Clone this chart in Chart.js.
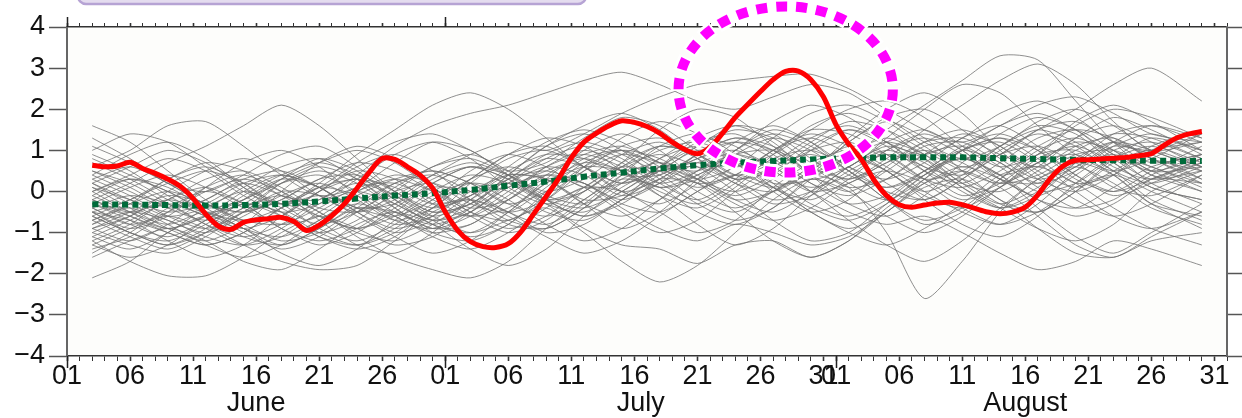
<!DOCTYPE html>
<html>
<head>
<meta charset="utf-8">
<title>Ensemble</title>
<script src="https://cdn.jsdelivr.net/npm/chart.js@4.4.1/dist/chart.umd.min.js"></script>
<style>
  html, body { margin: 0; padding: 0; background: #ffffff; }
  #wrap { width: 1242px; height: 418px; }
</style>
</head>
<body>
<div id="wrap"><canvas id="chart" width="1242" height="418"></canvas></div>
<script>
// Dias contados desde el 1 de junio (0 = 01 junio, 92 = 01 septiembre)
const redStartDay = 2;
const redValues = [
  0.64, 0.60, 0.62, 0.71, 0.56, 0.44, 0.30, 0.12, -0.17, -0.55,
  -0.84, -0.92, -0.75, -0.69, -0.66, -0.63, -0.73, -0.95, -0.82, -0.59,
  -0.30, 0.08, 0.48, 0.80, 0.78, 0.60, 0.40, 0.08, -0.50, -0.95,
  -1.22, -1.34, -1.36, -1.27, -0.98, -0.55, -0.12, 0.32, 0.82, 1.20,
  1.42, 1.60, 1.72, 1.68, 1.58, 1.42, 1.20, 1.02, 0.92, 1.08,
  1.42, 1.80, 2.12, 2.43, 2.72, 2.92, 2.93, 2.72, 2.30, 1.62,
  1.15, 0.78, 0.28, -0.10, -0.32, -0.38, -0.33, -0.28, -0.26, -0.32,
  -0.41, -0.50, -0.54, -0.50, -0.38, -0.08, 0.32, 0.62, 0.76, 0.77,
  0.79, 0.81, 0.83, 0.87, 0.92, 1.12, 1.30, 1.40, 1.46
];

// Dias de muestreo para los miembros grises y la linea verde
const sampleDays = [2, 5, 8, 11, 14, 17, 20, 23, 26, 29, 32, 35, 38, 41, 44,
  47, 50, 53, 56, 59, 62, 65, 68, 71, 74, 77, 80, 83, 86, 90];

const greenValues = [-0.31, -0.32, -0.33, -0.34, -0.33, -0.30, -0.24, -0.17, -0.10, -0.04,
  0.04, 0.14, 0.24, 0.36, 0.46, 0.56, 0.64, 0.70, 0.74, 0.78,
  0.81, 0.83, 0.83, 0.83, 0.81, 0.79, 0.77, 0.76, 0.75, 0.74];

const grayMembers = [
  [-0.6,-1.0,-1.3,-0.9,-0.2,0.3,0.1,-0.5,-0.9,-0.6,0.2,0.8,1.0,0.6,0.0,-0.3,0.2,1.0,1.5,1.2,0.6,0.3,0.7,1.3,1.6,1.1,0.4,0.0,0.3,0.8],
  [0.4,0.9,1.2,0.8,0.1,-0.6,-1.0,-0.7,0.0,0.6,0.9,0.5,-0.2,-0.6,-0.2,0.6,1.3,1.6,1.2,0.4,-0.3,-0.6,-0.1,0.7,1.4,1.8,1.5,0.8,0.3,0.5],
  [-1.4,-1.1,-0.5,0.1,0.4,0.0,-0.7,-1.3,-1.5,-1.0,-0.2,0.4,0.3,-0.3,-0.9,-0.5,0.3,1.0,1.4,1.1,0.5,-0.2,-0.8,-0.5,0.3,1.0,1.3,0.9,0.2,-0.3],
  [0.1,-0.4,-0.9,-1.2,-0.8,0.0,0.7,1.1,0.8,0.1,-0.5,-0.7,-0.2,0.6,1.3,1.7,1.4,0.7,0.0,-0.5,-0.2,0.6,1.2,1.5,1.1,0.4,-0.2,-0.6,-0.3,0.4],
  [-0.8,-0.3,0.3,0.6,0.2,-0.5,-1.1,-1.4,-1.1,-0.4,0.3,0.9,1.3,1.1,0.5,-0.1,-0.4,0.1,0.9,1.6,1.9,1.5,0.8,0.1,-0.4,-0.1,0.7,1.4,1.6,1.2],
  [1.6,1.2,0.5,-0.2,-0.7,-0.6,0.0,0.6,0.9,0.5,-0.2,-0.8,-0.9,-0.4,0.4,1.1,1.4,0.9,0.2,-0.5,-0.9,-0.5,0.3,1.0,1.2,0.7,0.0,-0.6,-0.9,-0.5],
  [-2.1,-1.7,-1.0,-0.6,-0.9,-1.5,-1.8,-1.4,-0.7,-0.1,0.2,-0.2,-0.8,-1.2,-0.9,-0.2,0.5,0.9,0.6,0.0,-0.7,-1.3,-1.7,-1.2,-0.4,0.3,0.7,0.4,-0.3,-0.9],
  [-0.2,0.2,0.7,1.1,1.6,2.1,1.6,0.8,0.0,-0.5,-0.3,0.4,1.1,1.6,1.9,1.5,0.8,0.2,0.0,0.5,1.3,2.0,2.4,1.9,1.0,0.3,0.0,0.4,1.1,1.5],
  [-1.0,-1.3,-1.5,-1.1,-0.5,0.0,-0.1,-0.6,-1.1,-1.5,-1.2,-0.5,0.2,0.7,0.5,-0.1,-0.8,-1.3,-0.9,-0.1,0.6,1.0,0.7,0.1,-0.4,-0.9,-1.2,-0.8,0.0,0.5],
  [0.9,0.5,-0.1,-0.5,-0.3,0.3,0.8,0.5,-0.2,-0.8,-1.0,-0.5,0.3,1.0,1.4,1.0,0.3,-0.1,0.3,1.0,1.5,1.2,0.5,-0.1,0.2,0.9,1.7,2.1,1.7,1.0],
  [-0.5,-0.9,-0.6,0.1,0.7,1.0,0.6,-0.1,-0.7,-0.9,-0.4,0.4,1.1,1.4,1.0,0.3,-0.3,-0.7,-0.4,0.4,1.2,1.7,1.3,0.5,-0.2,-0.5,0.0,0.8,1.3,1.0],
  [-1.6,-1.2,-0.9,-1.2,-1.7,-1.9,-1.4,-0.8,-0.5,-0.8,-1.4,-1.8,-1.4,-0.6,0.1,0.5,0.2,-0.5,-1.2,-1.6,-1.2,-0.4,0.2,0.5,0.1,-0.6,-1.3,-1.6,-1.1,-0.5],
  [0.6,1.0,1.6,1.7,1.1,0.4,-0.1,0.1,0.7,1.2,1.0,0.4,-0.2,0.0,0.7,1.5,2.0,1.8,1.1,0.5,0.6,1.3,2.0,2.6,2.4,1.6,0.9,0.5,0.8,1.4],
  [-0.3,-0.7,-1.2,-1.6,-1.3,-0.6,0.0,0.3,-0.1,-0.7,-1.1,-0.8,0.0,0.7,1.0,0.6,0.0,-0.4,0.0,0.4,0.1,-1.0,-2.6,-1.7,-0.5,0.3,0.6,0.2,-0.4,-0.8],
  [-0.5,-0.2,0.3,0.7,0.5,-0.1,-0.2,0.4,1.1,1.6,1.9,2.1,2.4,2.7,2.9,2.6,2.2,2.0,2.3,2.6,2.4,1.8,1.2,0.8,1.1,1.7,2.0,1.6,1.0,0.6],
  [0.2,0.6,1.0,0.7,0.1,-0.3,0.2,0.9,1.5,2.1,2.4,2.0,1.3,0.6,0.2,0.5,1.1,1.6,1.4,0.8,0.2,-0.2,0.3,1.0,1.6,1.9,1.5,0.9,0.5,0.8],
  [-0.4,-0.8,-1.1,-0.7,-0.1,0.4,0.7,0.4,-0.2,-0.6,-0.3,0.3,0.9,1.2,0.9,0.5,0.8,1.2,1.0,0.5,0.8,1.5,2.1,2.7,3.3,3.2,2.2,1.2,0.5,0.6],
  [-1.2,-0.8,-0.2,0.1,-0.3,-0.9,-1.2,-0.9,-0.3,0.3,0.6,0.3,-0.2,-0.4,0.0,0.6,1.1,1.5,1.3,0.7,0.3,0.8,1.5,2.1,2.7,3.1,2.6,1.7,1.0,1.2],
  [0.3,-0.1,-0.6,-0.9,-0.5,0.2,0.6,0.3,-0.4,-1.0,-1.2,-0.8,-0.1,0.5,0.9,0.7,0.3,0.6,1.3,1.9,2.1,1.7,1.1,0.6,0.9,1.5,2.0,2.6,3.0,2.2],
  [-0.9,-0.6,0.0,0.5,0.8,0.5,-0.1,-0.5,-0.2,0.4,0.9,1.2,1.0,1.4,1.9,2.3,2.6,2.7,2.8,2.85,2.5,2.0,1.5,1.2,1.6,2.1,2.3,1.9,1.4,1.2],
  [-0.7,-1.1,-1.4,-1.0,-0.4,-0.1,-0.5,-1.1,-1.6,-1.9,-2.1,-1.7,-0.9,-0.2,0.3,0.1,-0.5,-0.8,-0.4,0.3,0.8,0.5,-0.2,-0.8,-1.1,-0.6,0.2,0.8,0.6,0.1],
  [0.5,0.2,-0.3,-0.8,-1.1,-0.8,-0.2,0.2,-0.1,-0.6,-1.0,-0.7,-0.4,-1.0,-1.7,-2.2,-1.8,-1.0,-0.2,0.3,0.0,-0.6,-1.0,-0.6,0.1,0.7,0.9,0.4,-0.3,-0.6],
  [-1.2,-1.7,-2.05,-2.05,-1.6,-1.0,-0.6,-0.9,-1.3,-1.1,-0.5,0.1,0.4,0.1,-0.5,-1.0,-0.7,0.0,0.6,0.9,0.5,-0.2,-0.7,-0.4,0.3,0.9,1.0,0.5,-0.2,-0.7],
  [-0.4,-0.1,-0.3,-0.8,-1.3,-1.7,-1.9,-1.8,-1.2,-0.5,-0.2,-0.6,-1.1,-1.5,-1.2,-0.6,0.0,0.4,0.1,-0.5,-1.0,-1.3,-0.9,-0.3,0.4,0.6,0.2,-0.4,-0.9,-1.3],
  [0.0,-0.5,-0.9,-0.6,0.0,0.4,0.1,-0.5,-1.0,-0.7,-0.1,0.2,-0.3,-0.9,-1.3,-1.4,-1.75,-1.3,-1.2,-1.6,-1.2,-0.5,0.1,0.3,-0.2,-0.9,-1.5,-1.6,-1.2,-1.0],
  [-0.6,-0.2,0.2,0.5,0.2,-0.4,-0.8,-0.5,0.1,0.6,0.8,0.4,-0.2,-0.6,-0.3,0.3,0.8,1.0,0.6,0.0,-0.5,-0.8,-0.6,-1.0,-1.5,-1.9,-1.7,-1.2,-1.4,-1.8],
  [1.1,0.7,0.2,-0.3,-0.5,-0.2,0.3,0.7,0.5,0.0,-0.6,-1.0,-0.7,0.0,0.6,0.9,0.6,0.0,-0.7,-1.2,-1.0,-0.3,0.4,0.8,0.4,-0.4,-1.1,-1.5,-1.0,-0.3],
  [-0.9,-0.5,-0.1,-0.3,-0.8,-1.2,-1.0,-0.4,0.2,0.5,0.2,-0.3,-0.6,-0.2,0.5,1.0,1.2,0.8,0.1,-0.4,-0.7,-0.3,0.4,1.0,1.3,1.0,0.4,-0.1,0.2,0.7],
  [0.8,0.4,0.0,-0.4,-0.2,0.3,0.7,1.0,0.7,0.1,-0.4,-0.2,0.4,0.9,1.1,0.7,0.2,0.4,1.0,1.5,1.4,0.9,0.3,0.1,0.5,1.1,1.5,1.3,0.8,0.5],
  [-1.3,-0.9,-0.6,-0.9,-1.3,-1.1,-0.5,0.0,0.3,0.0,-0.5,-0.9,-0.6,0.1,0.6,0.4,-0.2,-0.5,0.0,0.6,1.1,0.9,0.3,-0.2,0.1,0.7,1.2,1.0,0.4,0.0],
  [0.2,-0.2,-0.6,-0.4,0.1,0.6,0.8,0.3,-0.3,-0.7,-0.5,0.2,0.8,1.1,0.8,0.2,-0.2,0.3,1.0,1.4,1.1,0.5,0.0,0.4,1.1,1.6,1.4,0.7,0.1,-0.2],
  [-0.1,-0.5,-0.8,-0.5,-0.9,-1.3,-0.9,-0.3,0.2,0.4,0.0,-0.5,-0.2,0.5,1.1,1.3,0.9,0.3,0.6,1.2,1.7,1.5,1.0,0.5,0.2,0.6,1.3,1.8,1.5,0.9],
  [-1.1,-1.4,-1.0,-0.4,0.0,-0.3,-0.9,-1.2,-0.8,-0.2,0.3,0.6,0.3,-0.3,-0.6,-0.2,0.4,0.7,0.3,-0.3,-0.6,-0.2,0.5,1.0,0.7,0.1,-0.4,-0.2,0.4,0.9],
  [1.3,0.8,0.2,0.0,0.4,0.9,1.1,0.6,0.0,-0.4,-0.1,0.6,1.2,1.5,1.2,0.7,0.5,1.0,1.7,2.1,1.8,1.2,0.9,1.3,1.9,2.2,1.8,1.2,1.0,1.4],
  [-0.7,-0.4,-0.8,-1.3,-1.6,-1.3,-0.7,-0.3,-0.6,-1.1,-1.4,-1.0,-0.4,0.1,0.0,-0.5,-1.0,-0.7,0.1,0.7,1.0,0.6,0.0,-0.5,-0.8,-0.3,0.5,1.1,0.9,0.3],
  [0.0,0.4,0.8,0.5,-0.1,-0.5,-0.3,0.3,0.9,1.2,0.8,0.1,-0.3,0.0,0.6,1.1,0.9,0.4,0.1,0.5,1.2,1.8,2.0,1.5,0.8,0.3,0.6,1.2,1.6,1.3],
  [-0.5,-1.0,-1.2,-0.8,-0.3,-0.6,-1.1,-1.3,-0.9,-0.3,0.2,0.0,-0.5,-0.7,-0.2,0.4,0.7,0.3,-0.2,0.0,0.6,1.1,0.8,0.2,-0.3,0.1,0.8,1.2,0.8,0.2],
  [0.5,0.1,-0.4,-0.7,-0.4,0.2,0.5,0.2,-0.4,-0.9,-0.6,0.0,0.6,0.9,0.6,0.1,0.3,0.9,1.3,1.0,0.4,0.1,0.5,1.1,1.4,1.0,0.3,0.0,0.5,1.1],
  [-0.2,-0.6,-1.0,-1.3,-1.0,-0.4,0.1,-0.1,-0.6,-1.0,-0.8,-0.2,0.4,0.2,-0.4,-0.9,-1.2,-0.8,-1.0,-1.3,-1.1,-0.5,0.2,0.6,0.3,-0.2,-0.6,-0.3,0.3,0.7],
  [1.0,1.4,1.2,0.6,0.0,-0.3,0.1,0.7,1.2,1.4,1.0,0.5,0.7,1.3,1.8,1.6,1.0,0.6,0.9,1.5,2.0,2.2,1.8,1.1,0.6,0.9,1.6,2.0,1.8,1.3],
  [-0.3,0.1,0.4,0.1,-0.4,-0.8,-0.6,0.0,0.4,0.2,-0.3,-0.5,0.1,0.8,1.0,0.5,0.1,0.4,1.0,1.3,0.9,0.2,-0.2,0.3,1.0,1.4,1.1,0.5,0.2,0.6],
  [-0.9,-1.2,-0.8,-0.2,0.2,-0.1,-0.6,-0.9,-0.5,0.2,0.6,0.4,-0.1,-0.3,0.2,0.8,1.1,0.7,0.1,-0.2,0.3,1.0,1.4,1.0,0.3,-0.1,0.4,1.0,1.2,0.8],
  [0.2,-0.3,-0.7,-1.0,-0.6,-0.1,0.2,-0.2,-0.7,-0.4,0.3,0.9,1.1,0.6,0.0,0.3,0.9,1.3,1.0,0.4,0.0,0.5,1.1,1.2,0.7,0.2,0.5,1.1,1.4,1.0],
  [-1.5,-1.0,-0.4,0.0,-0.3,-0.9,-1.3,-1.0,-0.4,0.1,0.0,-0.5,-0.8,-0.3,0.4,0.7,0.4,-0.2,-0.5,0.0,0.8,1.2,0.9,0.3,-0.3,-0.5,0.0,0.7,1.0,0.6],
  [0.7,0.3,-0.2,-0.6,-0.9,-0.6,0.0,0.5,0.3,-0.3,-0.6,-0.1,0.6,1.0,0.7,0.2,0.5,1.2,1.6,1.2,0.5,0.1,0.4,1.0,1.3,0.8,0.2,0.4,1.0,1.5],
  [-0.4,-0.8,-0.5,0.0,0.3,0.0,-0.5,-1.0,-1.2,-0.8,-0.2,0.3,0.5,0.2,-0.2,0.2,0.9,1.2,0.8,0.2,-0.1,0.3,0.9,1.1,0.6,0.0,0.2,0.8,1.1,0.7],
  [-0.1,0.3,0.1,-0.4,-0.9,-1.1,-0.7,-0.1,0.3,0.5,0.2,-0.3,0.0,0.6,1.0,0.8,0.3,0.0,0.4,1.1,1.5,1.1,0.5,0.2,0.7,1.3,1.5,1.0,0.4,0.2],
  [-1.0,-0.6,-0.2,-0.5,-1.0,-1.4,-1.1,-0.5,0.0,0.2,-0.2,-0.7,-0.9,-0.4,0.3,0.6,0.3,-0.2,0.0,0.6,0.9,0.5,-0.1,-0.4,0.1,0.8,1.1,0.7,0.1,-0.2],
  [0.3,0.6,0.2,-0.3,-0.5,-0.2,0.3,0.4,0.0,-0.5,-0.3,0.3,0.8,0.6,0.2,0.6,1.2,1.4,0.9,0.3,0.6,1.2,1.5,1.0,0.4,0.7,1.3,1.6,1.2,0.6],
  [-0.6,-1.0,-1.3,-1.0,-0.5,-0.3,-0.6,-0.9,-0.6,0.0,0.4,0.2,-0.3,-0.5,0.0,0.5,0.6,0.2,-0.3,-0.1,0.5,0.9,0.6,0.0,-0.4,0.0,0.6,0.9,0.5,0.0],
  [-0.2,-0.5,-0.2,0.3,0.5,0.1,-0.4,-0.5,-0.1,0.4,0.7,0.4,0.0,0.3,0.9,1.2,0.8,0.3,0.5,1.0,1.2,0.8,0.3,0.5,1.1,1.5,1.2,0.6,0.3,0.8],
  [-1.3,-1.6,-1.3,-0.7,-0.3,-0.5,-1.0,-1.3,-1.0,-0.4,-0.2,-0.5,-1.0,-0.8,-0.2,0.3,0.2,-0.3,-0.7,-0.4,0.2,0.5,0.2,-0.4,-0.8,-0.5,0.1,0.4,0.0,-0.5],
  [0.1,-0.2,-0.5,-0.3,0.2,0.4,0.1,-0.4,-0.6,-0.2,0.5,0.9,0.6,0.1,0.2,0.8,1.3,1.1,0.5,0.1,0.4,1.0,1.3,0.9,0.3,0.2,0.7,1.2,1.0,0.5],
  [-0.7,-0.3,0.0,-0.3,-0.7,-0.8,-0.4,0.1,0.2,-0.2,-0.6,-0.4,0.2,0.6,0.5,0.0,-0.3,0.2,0.8,1.0,0.6,0.0,-0.2,0.3,0.9,1.1,0.7,0.1,-0.1,0.4],
  [-0.5,-0.7,-1.0,-1.3,-1.0,-0.4,-0.1,-0.4,-0.8,-0.6,0.0,0.4,0.3,-0.2,-0.1,0.5,1.0,0.8,0.2,0.3,0.9,1.3,0.9,0.2,0.0,0.5,1.1,1.3,0.8,0.3],
  [0.4,0.0,-0.4,-0.2,0.3,0.5,0.1,-0.4,-0.3,0.2,0.6,0.3,-0.2,0.1,0.7,1.1,0.9,0.4,0.7,1.3,1.6,1.2,0.6,0.4,0.9,1.5,1.7,1.2,0.7,0.9],
  [-1.1,-0.7,-0.3,-0.6,-1.1,-1.3,-0.9,-0.4,-0.5,-0.9,-0.8,-0.2,0.3,0.2,-0.3,-0.5,0.0,0.6,0.7,0.2,-0.3,-0.1,0.5,0.8,0.4,-0.2,-0.4,0.1,0.6,0.9],
  [-0.3,-0.6,-0.9,-0.6,-0.2,0.2,0.4,0.0,-0.5,-0.8,-0.5,0.1,0.5,0.8,0.5,0.1,0.4,0.9,1.0,0.6,0.1,0.3,0.9,1.4,1.1,0.5,0.1,0.5,1.0,1.2],
  [-0.8,-0.5,-0.7,-1.1,-1.3,-0.9,-0.3,0.0,-0.3,-0.7,-0.4,0.2,0.6,0.4,-0.1,0.2,0.7,0.9,0.5,0.0,0.2,0.7,1.0,0.7,0.2,0.4,0.9,1.0,0.6,0.2],
  [0.0,0.3,0.0,-0.5,-0.7,-0.4,0.1,0.3,0.1,-0.3,-0.1,0.5,0.9,0.8,0.4,0.4,0.9,1.3,1.1,0.6,0.3,0.7,1.2,1.3,0.9,0.6,1.0,1.4,1.3,0.8]
];

// Etiquetas del eje x (dia del mes) y de los meses
const dayTickDays = [0, 5, 10, 15, 20, 25, 30, 35, 40, 45, 50, 55, 60, 61, 66, 71, 76, 81, 86, 91];
const dayTickLabels = ["01", "06", "11", "16", "21", "26", "01", "06", "11", "16", "21", "26", "31",
  "01", "06", "11", "16", "21", "26", "31"];
const monthStartDays = [0, 30, 61];
const monthCenterDays = [15, 45.5, 76];
const monthNames = ["June", "July", "August"];
const yTickValues = [-4, -3, -2, -1, 0, 1, 2, 3, 4];

// Circulo punteado (centro y radios en unidades de datos)
const circleCenter = { day: 57, value: 2.48 };
const circleRadius = { days: 8.5, value: 2.02 };

const FONT = "'Liberation Sans', Arial, sans-serif";
const allDays = [];
for (let d = 0; d <= 92; d++) allDays.push(d);

function toPoints(days, values) {
  return values.map((v, i) => ({ x: days[i], y: v }));
}
const redDays = redValues.map((_, i) => redStartDay + i);

const datasets = [];
datasets.push({
  data: toPoints(redDays, redValues),
  borderColor: "#ff0000",
  borderWidth: 5,
  tension: 0.3,
  pointRadius: 0,
  order: 0
});
datasets.push({
  data: toPoints(sampleDays, greenValues),
  borderColor: "#006b3a",
  borderWidth: 6,
  borderDash: [6, 4],
  borderCapStyle: "butt",
  tension: 0.4,
  pointRadius: 0,
  order: 1
});
grayMembers.forEach((m) => {
  datasets.push({
    data: toPoints(sampleDays, m),
    borderColor: "rgba(112,112,112,0.78)",
    borderWidth: 1,
    tension: 0.25,
    pointRadius: 0,
    order: 2
  });
});

// Fondo del area del grafico
const backgroundPlugin = {
  id: "fondo",
  beforeDraw(chart) {
    const { ctx, chartArea } = chart;
    ctx.save();
    ctx.fillStyle = "#ffffff";
    ctx.fillRect(0, 0, chart.width, chart.height);
    ctx.fillStyle = "#fdfdfb";
    ctx.fillRect(chartArea.left, chartArea.top, chartArea.right - chartArea.left, chartArea.bottom - chartArea.top);
    ctx.restore();
  }
};

// Circulo magenta y marcas largas de inicio de mes
const overlayPlugin = {
  id: "overlay",
  afterDraw(chart) {
    const { ctx, chartArea } = chart;
    const x = chart.scales.x;
    const y = chart.scales.y;

    ctx.save();
    ctx.strokeStyle = "#222";
    ctx.lineWidth = 1.5;
    monthStartDays.forEach((d) => {
      const px = Math.round(x.getPixelForValue(d)) + 0.5;
      ctx.beginPath();
      ctx.moveTo(px, chartArea.top - 10);
      ctx.lineTo(px, chartArea.top);
      ctx.moveTo(px, chartArea.bottom);
      ctx.lineTo(px, chartArea.bottom + 12);
      ctx.stroke();
    });

    const cx = x.getPixelForValue(circleCenter.day);
    const cy = y.getPixelForValue(circleCenter.value);
    const rx = x.getPixelForValue(circleCenter.day + circleRadius.days) - cx;
    const ry = cy - y.getPixelForValue(circleCenter.value + circleRadius.value);
    ctx.beginPath();
    ctx.ellipse(cx, cy, rx, ry, 0, 0, Math.PI * 2);
    ctx.lineCap = "butt";
    ctx.strokeStyle = "#ffffff";
    ctx.lineWidth = 16;
    ctx.setLineDash([15, 5]);
    ctx.lineDashOffset = 2;
    ctx.stroke();
    ctx.strokeStyle = "#ff00ff";
    ctx.lineWidth = 10;
    ctx.setLineDash([11, 9]);
    ctx.lineDashOffset = 0;
    ctx.stroke();
    ctx.setLineDash([]);

    // Recuadro lila cortado arriba
    const bx = chartArea.left + 11;
    const bw = 508;
    ctx.beginPath();
    ctx.roundRect(bx, -20, bw, 24, 8);
    ctx.fillStyle = "#e4dcef";
    ctx.fill();
    ctx.strokeStyle = "#b6a3d4";
    ctx.lineWidth = 2.5;
    ctx.stroke();
    ctx.restore();
  }
};

const dayTicks = (s) => { s.ticks = allDays.map((v) => ({ value: v })); };

new Chart(document.getElementById("chart"), {
  type: "line",
  data: { datasets: datasets },
  plugins: [backgroundPlugin, overlayPlugin],
  options: {
    responsive: false,
    animation: false,
    events: [],
    layout: { padding: 0 },
    plugins: { legend: { display: false }, tooltip: { enabled: false } },
    scales: {
      x: {
        type: "linear",
        position: "bottom",
        min: 0,
        max: 92,
        weight: 0,
        afterBuildTicks: dayTicks,
        afterFit: (s) => { s.height = 34; },
        grid: {
          drawOnChartArea: false,
          tickLength: 5,
          tickColor: "#333",
          tickWidth: (c) => (dayTickDays.includes(c.tick && c.tick.value) ? 1.6 : 1)
        },
        border: { color: "#333", width: 1.5 },
        ticks: {
          autoSkip: false,
          maxRotation: 0,
          minRotation: 0,
          padding: 2,
          color: "#111",
          font: { family: FONT, size: 27, lineHeight: 1 },
          callback: (v) => {
            const i = dayTickDays.indexOf(v);
            return i >= 0 ? dayTickLabels[i] : "";
          }
        }
      },
      xm: {
        type: "linear",
        position: "bottom",
        min: 0,
        max: 92,
        weight: 1,
        afterBuildTicks: (s) => { s.ticks = monthCenterDays.map((v) => ({ value: v })); },
        afterFit: (s) => { s.height = 28; },
        grid: { display: false, drawTicks: false },
        border: { display: false },
        ticks: {
          autoSkip: false,
          maxRotation: 0,
          padding: 0,
          color: "#111",
          font: { family: FONT, size: 27, lineHeight: 1 },
          callback: (v) => monthNames[monthCenterDays.indexOf(v)]
        }
      },
      xt: {
        type: "linear",
        position: "top",
        min: 0,
        max: 92,
        afterBuildTicks: dayTicks,
        afterFit: (s) => { s.height = 27; },
        grid: {
          drawOnChartArea: false,
          tickLength: 4,
          tickColor: "#333",
          tickWidth: (c) => (dayTickDays.includes(c.tick && c.tick.value) ? 1.6 : 1)
        },
        border: { color: "#333", width: 1.5 },
        ticks: { display: false }
      },
      y: {
        type: "linear",
        position: "left",
        min: -4,
        max: 4,
        afterBuildTicks: (s) => { s.ticks = yTickValues.map((v) => ({ value: v })); },
        afterFit: (s) => { s.width = 67; },
        grid: { drawOnChartArea: false, tickLength: 18, tickColor: "#555", tickWidth: 1.5 },
        border: { color: "#666", width: 2 },
        ticks: {
          padding: 4,
          color: "#111",
          font: { family: FONT, size: 27, lineHeight: 1 },
          callback: (v) => (v < 0 ? "\u2212" + Math.abs(v) : String(v))
        }
      },
      yr: {
        type: "linear",
        position: "right",
        min: -4,
        max: 4,
        afterBuildTicks: (s) => { s.ticks = yTickValues.map((v) => ({ value: v })); },
        afterFit: (s) => { s.width = 15; },
        grid: { drawOnChartArea: false, tickLength: 15, tickColor: "#555", tickWidth: 1.5 },
        border: { color: "#666", width: 2 },
        ticks: { display: false }
      }
    }
  }
});
</script>
</body>
</html>
